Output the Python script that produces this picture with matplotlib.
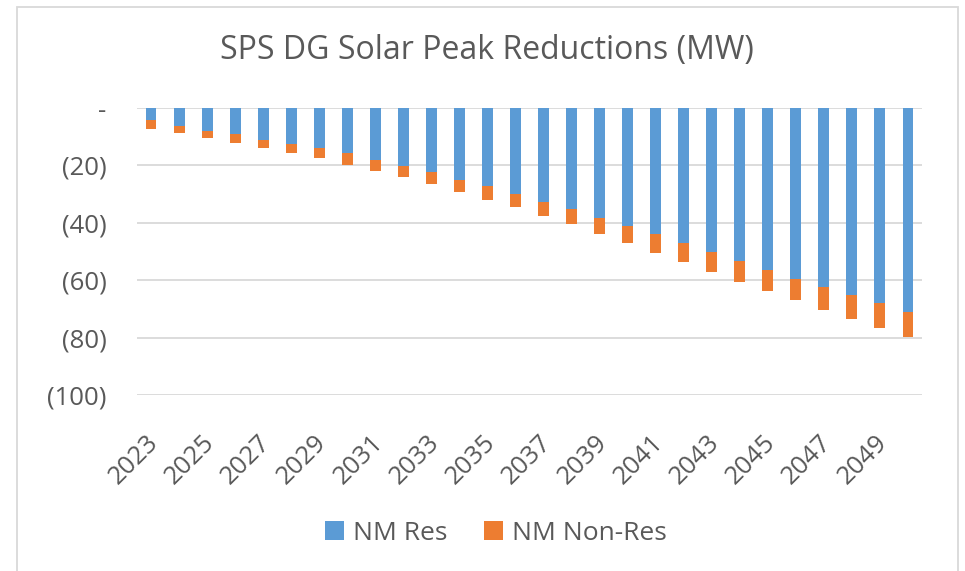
import matplotlib
matplotlib.use("Agg")
import matplotlib.pyplot as plt
from matplotlib.patches import Rectangle
from matplotlib.ticker import FuncFormatter
from matplotlib.transforms import ScaledTranslation

# values (MW, shown as negative reductions)
years = list(range(2023, 2051))
nm_res = [4.3, 6.1, 7.9, 9.2, 11.0, 12.7, 14.0, 15.8, 18.0, 20.2,
          22.3, 25.0, 27.2, 29.8, 32.6, 35.3, 38.4, 41.0, 44.0, 47.0,
          50.3, 53.2, 56.3, 59.5, 62.3, 65.2, 67.9, 71.0]
nm_total = [7.3, 8.7, 10.4, 12.1, 13.9, 15.7, 17.5, 19.7, 21.8, 23.9,
            26.6, 29.2, 31.9, 34.6, 37.8, 40.4, 44.0, 47.0, 50.6, 53.7,
            57.3, 60.8, 63.9, 66.9, 70.4, 73.6, 76.6, 79.7]
nm_nonres = [t - r for t, r in zip(nm_total, nm_res)]

BLUE = "#5B9BD5"
ORANGE = "#ED7D31"
TXT = "#595959"
GRID = "#D9D9D9"

plt.rcParams["font.family"] = ["Open Sans", "DejaVu Sans"]

fig = plt.figure(figsize=(9.65, 5.71), dpi=100)
ax = fig.add_axes([137 / 965, 1 - 395 / 571, 785 / 965, 287 / 571])

x = list(range(len(years)))
res_neg = [-v for v in nm_res]
nonres_neg = [-v for v in nm_nonres]
ax.bar(x, res_neg, width=0.39, color=BLUE, label="NM Res")
ax.bar(x, nonres_neg, width=0.39, bottom=res_neg, color=ORANGE, label="NM Non-Res")

ax.set_xlim(-0.5, len(years) - 0.5)
ax.set_ylim(-100, 0)
ax.set_yticks([0, -20, -40, -60, -80, -100])
ax.yaxis.set_major_formatter(FuncFormatter(lambda v, p: "-" if v == 0 else f"({abs(int(v))})"))
ax.grid(axis="y", color=GRID, linewidth=1.3)
ax.set_axisbelow(True)
for s in ax.spines.values():
    s.set_visible(False)

ax.set_xticks(x[::2])
ax.set_xticklabels([str(y) for y in years[::2]], rotation=45, ha="right",
                   rotation_mode="anchor")
ax.tick_params(axis="x", length=0, pad=25, labelsize=18.5, labelcolor=TXT)
ax.tick_params(axis="y", length=0, pad=22, labelsize=18.5, labelcolor=TXT)
# nudge year labels a bit left, like the excel layout
shift = ScaledTranslation(-5 / 100, 0, fig.dpi_scale_trans)
for lbl in ax.get_xticklabels():
    lbl.set_transform(lbl.get_transform() + shift)

fig.text(0.505, 1 - 50 / 571, "SPS DG Solar Peak Reductions (MW)", ha="center",
         va="center", fontsize=23, color=TXT)

fig.legend(loc="center", bbox_to_anchor=(0.514, 1 - 533 / 571), ncol=2, frameon=False,
           fontsize=19, labelcolor=TXT, handlelength=0.7, handleheight=0.7,
           handletextpad=0.35, columnspacing=1.4)

# light outer chart border
fig.patches.append(Rectangle((17 / 965, -0.05), 941 / 965, 1.05 - 7 / 571,
                             transform=fig.transFigure, fill=False,
                             edgecolor=GRID, linewidth=1.3))

plt.savefig("out.png", dpi=100)
